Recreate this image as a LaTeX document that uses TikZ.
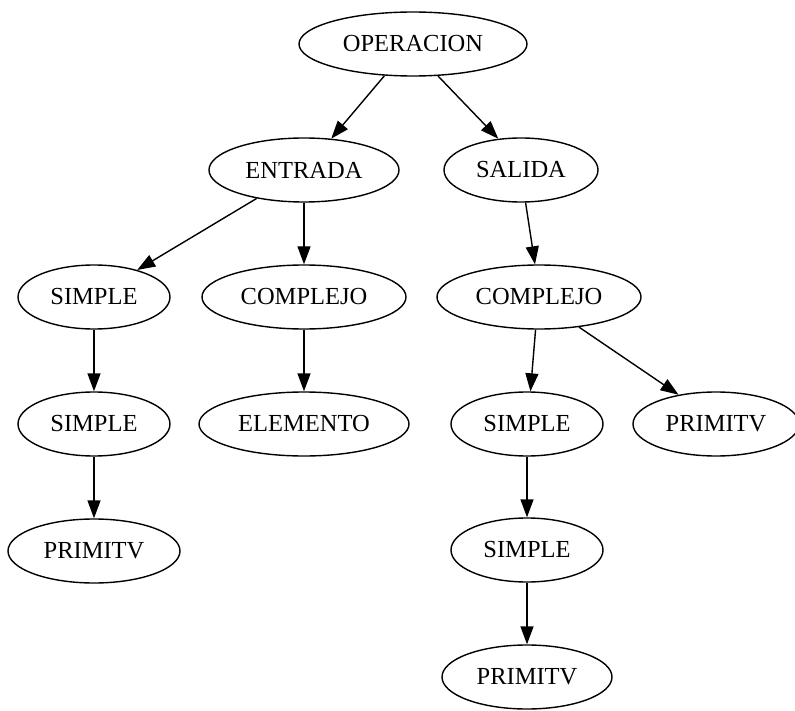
\documentclass[tikz,border=0pt]{standalone}
\usepackage{fontspec}
\setmainfont{Liberation Serif}
\usetikzlibrary{shapes.geometric,arrows.meta}

\tikzset{
  tn/.style={draw, ellipse, line width=1.4pt, inner sep=0pt,
    minimum height=64pt, font=\fontsize{24.5}{24.5}\selectfont},
  arr/.style={line width=1.4pt, -{Triangle[length=18pt,width=13pt]}}
}

\begin{document}
\begin{tikzpicture}[x=1pt,y=-1pt]
\useasboundingbox (0,0) rectangle (795,711);

% nodes of the tree
\node[tn, minimum width=228pt] (op) at (413,44)  {OPERACION};
\node[tn, minimum width=190pt] (en) at (304,170) {ENTRADA};
\node[tn, minimum width=154pt] (sa) at (521,170) {SALIDA};
\node[tn, minimum width=152pt] (s1) at (94,297)  {SIMPLE};
\node[tn, minimum width=204pt] (c1) at (304,297) {COMPLEJO};
\node[tn, minimum width=204pt] (c2) at (539,297) {COMPLEJO};
\node[tn, minimum width=152pt] (s2) at (94,424)  {SIMPLE};
\node[tn, minimum width=210pt] (el) at (304,424) {ELEMENTO};
\node[tn, minimum width=152pt] (s3) at (527,424) {SIMPLE};
\node[tn, minimum width=166pt] (p2) at (716,424) {PRIMITV};
\node[tn, minimum width=172pt] (p1) at (94,551)  {PRIMITV};
\node[tn, minimum width=152pt] (s4) at (527,550) {SIMPLE};
\node[tn, minimum width=170pt] (p3) at (527,677) {PRIMITV};

% edges
\draw[arr] (op.228.9) -- (en.49.8);
\draw[arr] (op.308.9) -- (sa.126.9);
\draw[arr] (en.211.3) -- (s1.32.1);
\draw[arr] (en.south) -- (c1.north);
\draw[arr] (sa.278.9) -- (c2.97.4);
\draw[arr] (s1.south) -- (s2.north);
\draw[arr] (c1.south) -- (el.north);
\draw[arr] (c2.264.6) -- (s3.84.6);
\draw[arr] (c2.323.8) -- (p2.142.6);
\draw[arr] (s2.south) -- (p1.north);
\draw[arr] (s3.south) -- (s4.north);
\draw[arr] (s4.south) -- (p3.north);
\end{tikzpicture}
\end{document}
